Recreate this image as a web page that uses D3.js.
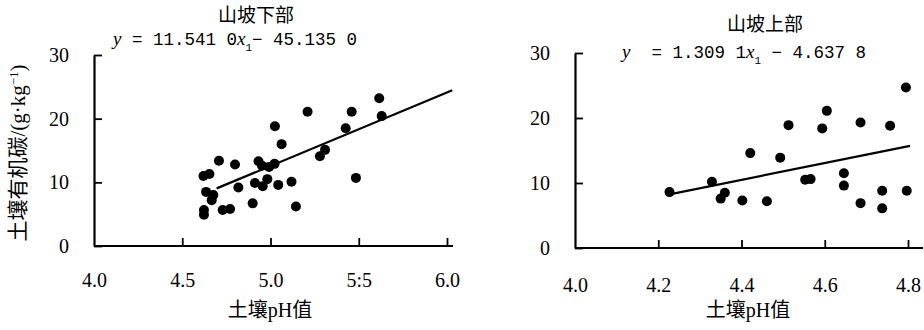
<!DOCTYPE html>
<html>
<head>
<meta charset="utf-8">
<script src="https://cdn.jsdelivr.net/npm/d3@7"></script>
<style>
  body { margin: 0; background: #fff; }
  text { fill: #000; }
  .serif { font-family: "Liberation Serif", "Times New Roman", serif; }
</style>
</head>
<body>
<script>
// data
var lowerPH = [5.21, 5.46, 5.616, 5.63, 5.025, 5.426, 5.063, 5.309, 5.28, 4.708, 4.799, 4.932, 4.952, 5.023, 4.992,
  4.62, 4.654, 4.818, 4.912, 4.956, 4.982, 5.044, 5.119, 5.484, 4.635, 4.676, 4.667, 4.899, 5.144, 4.729, 4.771, 4.623, 4.623];
var lowerSOC = [21.1, 21.1, 23.2, 20.4, 18.8, 18.5, 16.0, 15.1, 14.1, 13.4, 12.8, 13.3, 12.6, 12.9, 12.4,
  11.0, 11.3, 9.2, 9.9, 9.4, 10.5, 9.6, 10.1, 10.7, 8.5, 8.0, 7.2, 6.7, 6.2, 5.65, 5.8, 5.65, 4.9];

var upperPH = [4.795, 4.605, 4.513, 4.594, 4.686, 4.757, 4.421, 4.493, 4.646, 4.553, 4.566, 4.329, 4.646, 4.227,
  4.738, 4.797, 4.360, 4.350, 4.402, 4.461, 4.686, 4.738];
var upperSOC = [24.7, 21.1, 18.9, 18.4, 19.3, 18.8, 14.6, 13.9, 11.5, 10.5, 10.6, 10.2, 9.6, 8.6,
  8.8, 8.8, 8.5, 7.6, 7.3, 7.2, 6.9, 6.1];

// fitted lines (x ends, y ends)
var lowerFitX = [4.695, 6.03];
var lowerFitY = [11.541 * 4.695 - 45.135, 11.541 * 6.03 - 45.135];
var upperFitX = [4.23, 4.805];
var upperFitY = [8.3, 15.7];

var lowerTicks = [4.0, 4.5, 5.0, 5.5, 6.0];
var lowerTickLabels = ["4.0", "4.5", "5.0", "5:5", "6.0"];
var upperTicks = [4.0, 4.2, 4.4, 4.6, 4.8];
var upperTickLabels = ["4.0", "4.2", "4.4", "4.6", "4.8"];
var yTicks = [0, 10, 20, 30];

var titles = ["山坡下部", "山坡上部"];
var xTitle = "土壤pH值";

var svg = d3.select("body").append("svg")
  .attr("width", 924)
  .attr("height", 330);

function panel(opt) {
  var x = d3.scaleLinear().domain(opt.xDomain).range(opt.xRange);
  var y = d3.scaleLinear().domain([0, 30]).range(opt.yRange);
  var g = svg.append("g");

  // x axis, ticks pointing up
  var xa = g.append("g")
    .attr("transform", "translate(0," + y(0) + ")")
    .call(d3.axisBottom(x).tickValues(opt.ticks)
      .tickFormat(function (d, i) { return opt.labels[i]; })
      .tickSizeInner(-8).tickSizeOuter(0).tickPadding(opt.xPad));
  xa.attr("font-family", null).attr("font-size", null);
  xa.select(".domain").remove();
  xa.selectAll(".tick").filter(function (d) { return d === opt.xDomain[0]; }).select("line").remove();
  xa.selectAll("line").attr("stroke", "#000").attr("stroke-width", 1.8);
  xa.selectAll("text").attr("class", "serif").style("font-size", "20px");
  g.append("line")
    .attr("x1", x(opt.xDomain[0])).attr("x2", opt.xEnd)
    .attr("y1", y(0)).attr("y2", y(0))
    .attr("stroke", "#000").attr("stroke-width", 2.2);

  // y axis, ticks pointing right
  var ya = g.append("g")
    .attr("transform", "translate(" + x(opt.xDomain[0]) + ",0)")
    .call(d3.axisLeft(y).tickValues(yTicks)
      .tickSizeInner(-8).tickSizeOuter(0).tickPadding(25));
  ya.attr("font-family", null).attr("font-size", null);
  ya.select(".domain").attr("stroke", "#000").attr("stroke-width", 2.2);
  ya.selectAll("line").attr("stroke", "#000").attr("stroke-width", 1.8);
  ya.selectAll("text").attr("class", "serif").style("font-size", "20px");

  // x title
  g.append("text")
    .attr("x", opt.xTitleX).attr("y", 317)
    .attr("text-anchor", "middle")
    .style("font-size", "20px")
    .style("font-family", "'Liberation Serif', 'Noto Sans CJK SC', serif")
    .text(xTitle);

  // panel title
  g.append("text")
    .attr("x", opt.titleX).attr("y", opt.titleY)
    .attr("text-anchor", "middle")
    .style("font-size", "19px")
    .style("font-family", "'Noto Sans CJK SC', sans-serif")
    .text(opt.title);

  // equation
  var eq = g.append("text")
    .attr("x", opt.eqX).attr("y", opt.eqY)
    .style("font-size", "17.5px")
    .style("font-family", "'Liberation Mono', monospace")
    .style("white-space", "pre");
  eq.append("tspan").attr("class", "serif").style("font-style", "italic").style("font-size", "19px").text("y");
  eq.append("tspan").text(opt.eq[0]);
  eq.append("tspan").attr("class", "serif").style("font-style", "italic").style("font-size", "19px").text("x");
  eq.append("tspan").attr("baseline-shift", "sub").style("font-size", "11px").text("1");
  eq.append("tspan").text(opt.eq[1]);

  // fit line
  g.append("line")
    .attr("x1", x(opt.fitX[0])).attr("y1", y(opt.fitY[0]))
    .attr("x2", x(opt.fitX[1])).attr("y2", y(opt.fitY[1]))
    .attr("stroke", "#000").attr("stroke-width", 2.2);

  // points
  g.selectAll("circle")
    .data(opt.px.map(function (d, i) { return [d, opt.py[i]]; }))
    .enter().append("circle")
    .attr("cx", function (d) { return x(d[0]); })
    .attr("cy", function (d) { return y(d[1]); })
    .attr("r", 5)
    .attr("fill", "#000");
}

panel({
  xDomain: [4.0, 6.0], xRange: [94, 447], yRange: [246, 55], xEnd: 453,
  ticks: lowerTicks, labels: lowerTickLabels, xPad: 27,
  px: lowerPH, py: lowerSOC, fitX: lowerFitX, fitY: lowerFitY,
  title: titles[0], titleX: 256, titleY: 22,
  eq: [" = 11.541 0", "− 45.135 0"], eqX: 113, eqY: 45,
  xTitleX: 270
});

panel({
  xDomain: [4.0, 4.8], xRange: [575, 908], yRange: [248, 53], xEnd: 923,
  ticks: upperTicks, labels: upperTickLabels, xPad: 30,
  px: upperPH, py: upperSOC, fitX: upperFitX, fitY: upperFitY,
  title: titles[1], titleX: 765, titleY: 31,
  eq: ["  = 1.309 1", " − 4.637 8"], eqX: 622, eqY: 58,
  xTitleX: 748
});

// y title (left panel only)
var yt = svg.append("text")
  .attr("transform", "translate(25,153) rotate(-90)")
  .attr("text-anchor", "middle")
  .style("font-size", "21px")
  .style("font-family", "'Liberation Serif', 'Noto Sans CJK SC', serif");
yt.append("tspan").text("土壤有机碳/(g·kg");
yt.append("tspan").attr("baseline-shift", "super").style("font-size", "13px").text("−1");
yt.append("tspan").text(")");
</script>
</body>
</html>
